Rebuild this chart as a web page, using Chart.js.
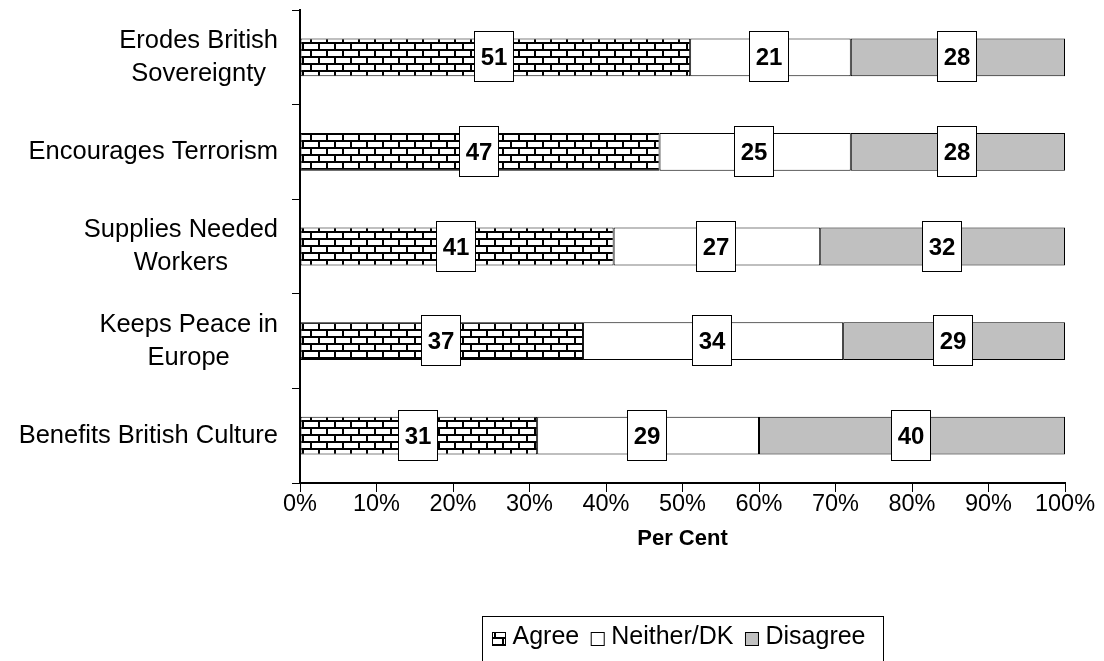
<!DOCTYPE html>
<html>
<head>
<meta charset="utf-8">
<script src="https://cdn.jsdelivr.net/npm/chart.js@4"></script>
<style>
  html, body { margin: 0; padding: 0; background: #fff; }
  #wrap { width: 1104px; height: 661px; }
</style>
</head>
<body>
<div id="wrap"><canvas id="chart" width="1104" height="661"></canvas></div>
<script>
// data
const categories = [
    ['Erodes British', 'Sovereignty'],
    ['Encourages Terrorism'],
    ['Supplies Needed', 'Workers'],
    ['Keeps Peace in', 'Europe'],
    ['Benefits British Culture']
];
const seriesNames = ['Agree', 'Neither/DK', 'Disagree'];
const agree = [51, 47, 41, 37, 31];
const neither = [21, 25, 27, 34, 29];
const disagree = [28, 28, 32, 29, 40];
const xTicks = [0, 10, 20, 30, 40, 50, 60, 70, 80, 90, 100];

const FONT = '"Liberation Sans", Arial, sans-serif';

// brick fill for the Agree bars
function brickPattern() {
    const c = document.createElement('canvas');
    c.width = 16; c.height = 14;
    const g = c.getContext('2d');
    g.fillStyle = '#000';
    g.fillRect(0, 0, 16, 14);
    g.fillStyle = '#fff';
    g.fillRect(0, 2, 14, 5);
    g.fillRect(8, 9, 14, 5);
    g.fillRect(-8, 9, 14, 5);
    return document.getElementById('chart').getContext('2d').createPattern(c, 'repeat');
}
const bricks = brickPattern();
const colors = [bricks, '#ffffff', '#c0c0c0'];

// multi-line category labels, right-aligned block with centered lines
const yLabelsPlugin = {
    id: 'yLabels',
    afterDraw(chart) {
        const ctx = chart.ctx;
        const y = chart.scales.y;
        ctx.save();
        ctx.font = '25.5px ' + FONT;
        ctx.fillStyle = '#000';
        ctx.textAlign = 'center';
        ctx.textBaseline = 'middle';
        const right = 278, lh = 33;
        categories.forEach(function(lines, i) {
            const cy = y.getPixelForValue(i);
            const w = Math.max.apply(null, lines.map(function(l) { return ctx.measureText(l).width; }));
            const cx = right - w / 2;
            lines.forEach(function(l, j) {
                ctx.fillText(l, cx, cy + (j - (lines.length - 1) / 2) * lh);
            });
        });
        ctx.restore();
    }
};

// boxed value labels in the middle of each segment
const valueBoxPlugin = {
    id: 'valueBoxes',
    afterDatasetsDraw(chart) {
        const ctx = chart.ctx;
        ctx.save();
        ctx.font = 'bold 24px ' + FONT;
        ctx.textAlign = 'center';
        ctx.textBaseline = 'middle';
        chart.data.datasets.forEach(function(ds, di) {
            chart.getDatasetMeta(di).data.forEach(function(bar, i) {
                const cx = Math.round((bar.x + bar.base) / 2) - 1;
                const cy = Math.round(bar.y);
                ctx.fillStyle = '#fff';
                ctx.fillRect(cx - 19.5, cy - 25.5, 39, 50);
                ctx.strokeStyle = '#000';
                ctx.lineWidth = 1;
                ctx.strokeRect(cx - 19.5, cy - 25.5, 39, 50);
                ctx.fillStyle = '#000';
                ctx.fillText(ds.data[i], cx, cy + 1);
            });
        });
        ctx.restore();
    }
};

// legend in a bordered box under the axis title, centred on the plot
const legendBoxPlugin = {
    id: 'legendBox',
    afterDraw(chart) {
        const ctx = chart.ctx;
        ctx.save();
        ctx.font = '25px ' + FONT;
        ctx.textBaseline = 'middle';
        const box = 14, gapBox = 6, gapItem = 12, padX = 10;
        const widths = seriesNames.map(function(n) { return ctx.measureText(n).width; });
        let total = padX * 2 + 8;
        widths.forEach(function(w, i) { total += box + gapBox + w + (i < widths.length - 1 ? gapItem : 0); });
        const mid = (chart.chartArea.left + chart.chartArea.right) / 2;
        const left = Math.round(mid - total / 2) + 0.5, top = 616.5, h = 46;
        ctx.strokeStyle = '#000';
        ctx.lineWidth = 1;
        ctx.strokeRect(left, top, Math.round(total), h);
        let x = left + padX;
        const cy = 639;
        seriesNames.forEach(function(n, i) {
            ctx.fillStyle = colors[i];
            ctx.fillRect(x, cy - 6.5, box - 1, box - 1);
            ctx.strokeRect(x, cy - 6.5, box - 1, box - 1);
            x += box + gapBox;
            ctx.fillStyle = '#000';
            ctx.fillText(n, x, cy - 2);
            x += widths[i] + gapItem;
        });
        ctx.restore();
    }
};

const ctx = document.getElementById('chart').getContext('2d');
const chart = new Chart(ctx, {
    type: 'bar',
    data: {
        labels: categories.map(function(l) { return l.join(' '); }),
        datasets: [agree, neither, disagree].map(function(vals, i) {
            return {
                label: seriesNames[i],
                data: vals,
                backgroundColor: colors[i],
                borderColor: '#000',
                borderWidth: 1,
                borderSkipped: false,
                barPercentage: 0.4,
                categoryPercentage: 1
            };
        })
    },
    options: {
        indexAxis: 'y',
        responsive: false,
        animation: false,
        layout: { padding: { top: 10, right: 39, bottom: 109, left: 0 } },
        plugins: {
            legend: { display: false },
            tooltip: { enabled: false }
        },
        scales: {
            x: {
                stacked: true,
                min: 0,
                max: 100,
                afterBuildTicks: function(s) { s.ticks = xTicks.map(function(v) { return { value: v }; }); },
                afterFit: function(s) { s.height = 69; },
                ticks: {
                    font: { family: FONT, size: 23.5 },
                    color: '#000',
                    padding: -2,
                    maxRotation: 0,
                    callback: function(v) { return v + '%'; }
                },
                grid: { drawOnChartArea: false, tickLength: 9, color: '#000' },
                border: { color: '#000', width: 2 },
                title: {
                    display: true,
                    text: 'Per Cent',
                    font: { family: FONT, size: 22, weight: 'bold' },
                    color: '#000',
                    padding: { top: 0, bottom: 0 }
                }
            },
            y: {
                stacked: true,
                afterFit: function(s) { s.width = 300; },
                ticks: { display: false },
                grid: { drawOnChartArea: false, tickLength: 8, color: '#000', offset: true },
                border: { color: '#000', width: 2 }
            }
        }
    },
    plugins: [yLabelsPlugin, valueBoxPlugin, legendBoxPlugin]
});
</script>
</body>
</html>
